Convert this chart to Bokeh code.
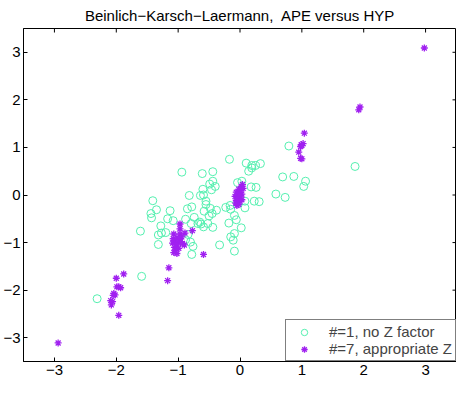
import math
from bokeh.plotting import figure
from bokeh.models import FixedTicker, Legend, LegendItem, Range1d
from bokeh.embed import file_html
from bokeh.resources import INLINE

# ---- data: HYP (x) vs APE (y) ----
# series "#=1, no Z factor"
x1 = [-0.17, 0.10, 0.19, 0.25, 0.33, 0.14, 0.19, -0.94, -0.61, -0.44,
      -0.44, -0.49, -0.40, -0.46, -0.60, -0.82, -0.64, -0.59, -0.04, 0.03,
      0.18, 0.26, 0.58, 0.69, 0.87, 1.06, 1.03, 0.79, 1.86, 0.73,
      -1.41, -0.55, -0.55, -0.78, -0.85, -0.48, -0.38, -0.58, -0.45, -0.50,
      -0.23, -0.16, -0.15, 0.08, 0.08, 0.23, 0.31, -1.35, -1.44, -1.43,
      -1.13, -1.17, -1.08, -0.88, -0.74, -0.79, -0.68, -0.63, -0.65, -0.52,
      -0.59, -0.44, -0.09, -0.06, -0.18, 0.02, -1.28, -1.61, -1.32, -1.27,
      -1.20, -1.32, -0.84, -0.88, -0.80, -0.76, -0.78, -0.33, -0.09, -0.15,
      -0.11, -0.09, -2.31, -1.59]
y1 = [0.75, 0.67, 0.62, 0.62, 0.66, 0.50, 0.57, 0.48, 0.45, 0.49,
      0.29, 0.23, 0.18, 0.11, 0.12, -0.01, -0.01, 0.00, 0.26, 0.29,
      0.17, 0.16, 0.02, 0.38, 0.39, 0.29, 0.18, 1.03, 0.60, -0.05,
      -0.12, -0.13, -0.20, -0.25, -0.29, -0.28, -0.32, -0.34, -0.39, -0.44,
      -0.26, -0.22, -0.30, -0.13, -0.27, -0.13, -0.14, -0.31, -0.39, -0.48,
      -0.33, -0.50, -0.54, -0.51, -0.47, -0.60, -0.60, -0.61, -0.57, -0.60,
      -0.67, -0.68, -0.43, -0.52, -0.59, -0.69, -0.65, -0.76, -0.84, -0.80,
      -0.79, -1.04, -0.83, -0.94, -0.99, -1.08, -1.25, -1.05, -0.81, -0.88,
      -0.95, -1.18, -2.18, -1.71]

# series "#=7, appropriate Z"
x7 = [0.04, 0.02, 0.05, -0.02, 0.01, -0.06, 0.00, 0.03, -0.04, -0.08,
      0.01, -0.03, -0.06, 0.00, -0.04, -0.02, -0.05, 0.03, -0.07,
      -0.97, -0.97, -1.07, -0.97, -0.89, -0.77, -0.94, -1.08, -1.02, -0.98,
      -1.05, -0.96, -1.00, -1.09, -0.93, -1.03, -0.90, -1.06, -0.99, -1.04,
      -1.07, -1.02, -0.59, -1.15, -1.17,
      1.04, 0.99, 0.98, 1.02, 1.00, 0.95, 0.98, 1.00, 1.94, 1.92, 2.98,
      -2.00, -1.88, -1.96, -1.93, -1.99, -2.04, -2.02, -2.05, -2.09, -2.06,
      -2.08, -1.96, -2.94]
y7 = [0.22, 0.18, 0.14, 0.12, 0.10, 0.06, 0.05, 0.02, 0.00, -0.03,
      -0.04, -0.08, -0.11, -0.13, -0.16, -0.20, -0.22, -0.10, -0.17,
      -0.61, -0.71, -0.82, -0.82, -0.80, -0.75, -0.88, -0.92, -0.90, -0.93,
      -0.97, -0.98, -1.00, -1.01, -1.02, -1.05, -1.05, -1.10, -1.12, -1.17,
      -1.21, -1.23, -1.25, -1.53, -1.80,
      1.30, 1.06, 1.02, 1.08, 1.04, 0.90, 0.77, 0.76, 1.85, 1.79, 3.09,
      -1.75, -1.66, -1.93, -1.95, -1.93, -2.07, -2.10, -2.11, -2.22, -2.24,
      -2.31, -2.53, -3.11]

ticks = [-3, -2, -1, 0, 1, 2, 3]
labels = ["#=1, no Z factor", "#=7, appropriate Z"]
title_text = "Beinlich\u2212Karsch\u2212Laermann,\u00a0 APE versus HYP"
LIM = 3.5

FONT = "Liberation Sans"
GREEN = "#55f0b0"
PURPLE = "#a020f0"

p = figure(width=456, height=377, output_backend="svg", toolbar_location=None,
           x_range=Range1d(-LIM, LIM), y_range=Range1d(-LIM, LIM),
           min_border_left=0, min_border_right=0, min_border_top=0, min_border_bottom=0)
p.title.text = title_text
p.title.align = "center"
p.title.text_font = FONT
p.title.text_font_size = "15px"
p.title.text_font_style = "normal"
p.title.text_color = "black"
p.title.standoff = 9

p.xgrid.visible = False
p.ygrid.visible = False
p.outline_line_color = "black"
p.outline_line_width = 1
p.background_fill_color = "white"
p.border_fill_color = "white"

for ax in (p.xaxis[0], p.yaxis[0]):
    ax.ticker = FixedTicker(ticks=ticks)
    ax.major_tick_in = 4
    ax.major_tick_out = 0
    ax.minor_tick_line_color = None
    ax.major_label_text_font = FONT
    ax.major_label_text_font_size = "15px"
    ax.major_label_text_color = "black"
    ax.axis_line_color = "black"
    ax.major_tick_line_color = "black"
    ax.major_label_standoff = 3

# mirrored inward ticks on the top and right frame edges (clipped half-dashes)
p.scatter(ticks, [LIM] * len(ticks), marker="dash", angle=math.pi / 2, size=8,
          line_color="black", line_width=1)
p.scatter([LIM] * len(ticks), ticks, marker="dash", size=8,
          line_color="black", line_width=1)

r1 = p.scatter(x1, y1, marker="circle", size=8, fill_color=None,
               line_color=GREEN, line_width=1)
r7 = p.scatter(x7, y7, marker="asterisk", size=7, line_color=PURPLE, line_width=1.3)

legend = Legend(items=[LegendItem(label=labels[0], renderers=[r1]),
                       LegendItem(label=labels[1], renderers=[r7])],
                location="bottom_right", margin=0, padding=3, spacing=0,
                glyph_width=30, glyph_height=16, label_height=16,
                label_standoff=10, label_text_font=FONT, label_text_font_size="15px",
                border_line_color="black", border_line_width=1,
                background_fill_alpha=1.0)
p.add_layout(legend)

open("out.html", "w").write(file_html(p, INLINE))
